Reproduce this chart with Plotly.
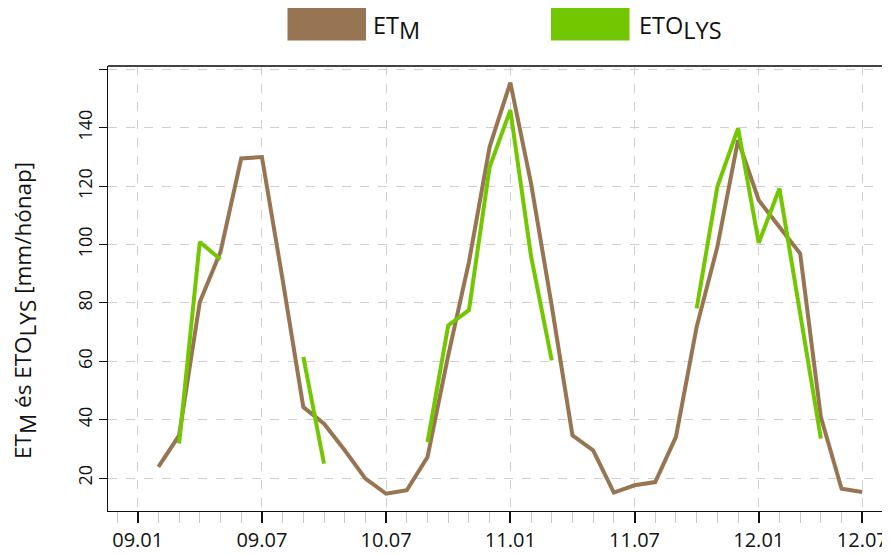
import plotly.graph_objects as go

# monthly positions (index of month from 2009-01)
month_index = list(range(36))

et_m = [None, 23.8, 34.6, 80.3, 97.5, 129.5, 130.0, 88.0, 44.3, 38.6, 29.5, 19.8,
        14.6, 15.8, 27.2, 62.0, 94.0, 133.5, 155.5, 121.0, 79.0, 34.6, 29.5, 15.0,
        17.5, 18.6, 34.1, 71.8, 99.2, 135.8, 115.2, 106.0, 96.9, 40.9, 16.3, 15.2]

eto_lys = [None, None, 31.8, 100.9, 94.9, None, None, None, 61.5, 24.9, None, None,
           None, None, 32.3, 72.3, 77.5, 126.6, 146.1, 96.0, 60.3, None, None, None,
           None, None, None, 78.1, 119.8, 139.8, 100.6, 119.2, 76.0, 33.5, None, None]

x_tick_pos = [0, 6, 12, 18, 24, 30, 35]
x_tick_text = ["09.01", "09.07", "10.07", "11.01", "11.07", "12.01", "12.07"]
y_tick_vals = [20, 40, 60, 80, 100, 120, 140, 160]
y_tick_text = ["20", "40", "60", "80", "100", "120", "140", ""]

BROWN = "#977552"
GREEN = "#72C700"
FONT = "Open Sans"

fig = go.Figure()
fig.add_trace(go.Scatter(x=month_index, y=et_m, mode="lines",
                         line=dict(color=BROWN, width=4), connectgaps=False,
                         showlegend=False))
fig.add_trace(go.Scatter(x=month_index, y=eto_lys, mode="lines",
                         line=dict(color=GREEN, width=4), connectgaps=False,
                         showlegend=False))

# page body has an 8px margin, so the figure is sized to the remaining window
OFF = 8
W, H = 890 - OFF, 554 - OFF
ML, MR, MT, MB = 100, 0, 58, 43

fig.update_layout(
    width=W, height=H,
    margin=dict(l=ML, r=MR, t=MT, b=MB, autoexpand=False),
    paper_bgcolor="white", plot_bgcolor="white",
    font=dict(family=FONT, color="#111"),
    xaxis=dict(
        range=[-1.435, 36.34],
        automargin=False,
        tickmode="array", tickvals=x_tick_pos, ticktext=x_tick_text,
        tickfont=dict(size=20, family=FONT, color="#111"),
        ticks="outside", ticklen=11, tickwidth=1.5, tickcolor="#111",
        showline=True, linecolor="#111", linewidth=1,
        showgrid=True, gridcolor="#cfcfcf", griddash="dash", gridwidth=1,
        zeroline=False,
        minor=dict(tickmode="linear", tick0=0, dtick=1, ticks="outside",
                   ticklen=11, tickwidth=1, tickcolor="#c8c8c8", showgrid=False),
        ticklabelstandoff=0,
    ),
    yaxis=dict(
        range=[8.69, 161.2],
        automargin=False,
        tickmode="array", tickvals=y_tick_vals, ticktext=y_tick_text,
        tickfont=dict(size=18, family=FONT, color="#111"),
        tickangle=-90,
        ticks="outside", ticklen=8, tickwidth=1, tickcolor="#111",
        showline=True, linecolor="#111", linewidth=1,
        showgrid=True, gridcolor="#cfcfcf", griddash="dash", gridwidth=1,
        zeroline=False,
    ),
)

# top frame line
fig.add_shape(type="line", xref="paper", yref="paper", x0=0, x1=1, y0=1, y1=1,
              line=dict(color="#444", width=2))

# positions given in window pixels
def px_to_paper_x(px):
    return (px - OFF - ML) / (W - ML - MR)

def px_to_paper_y(py):
    return (H - MB - (py - OFF)) / (H - MT - MB)

# y-axis title
fig.add_annotation(
    x=px_to_paper_x(25), y=px_to_paper_y(311), xref="paper", yref="paper",
    text='ET<sub><span style="font-size:22.5px">M</span></sub> és ETO<sub><span style="font-size:22.5px">LYS</span></sub> [mm/hónap]',
    textangle=-90, showarrow=False, xanchor="center", yanchor="middle",
    font=dict(size=22.5, family=FONT, color="#111"))

# manual legend
legend_items = [("ET<sub><span style=\"font-size:23.5px\">M</span></sub>", BROWN, 287.5, 366, 371),
                ("ETO<sub><span style=\"font-size:23.5px\">LYS</span></sub>", GREEN, 551, 629.5, 637)]
for text, color, x0, x1, tx in legend_items:
    fig.add_shape(type="rect", xref="paper", yref="paper",
                  x0=px_to_paper_x(x0), x1=px_to_paper_x(x1),
                  y0=px_to_paper_y(40.5), y1=px_to_paper_y(8),
                  fillcolor=color, line=dict(width=0))
    fig.add_annotation(x=px_to_paper_x(tx), y=px_to_paper_y(27), xref="paper", yref="paper",
                       text=text, showarrow=False, xanchor="left", yanchor="middle",
                       font=dict(size=23.5, family=FONT, color="#111"))

fig.write_html("out.html")
